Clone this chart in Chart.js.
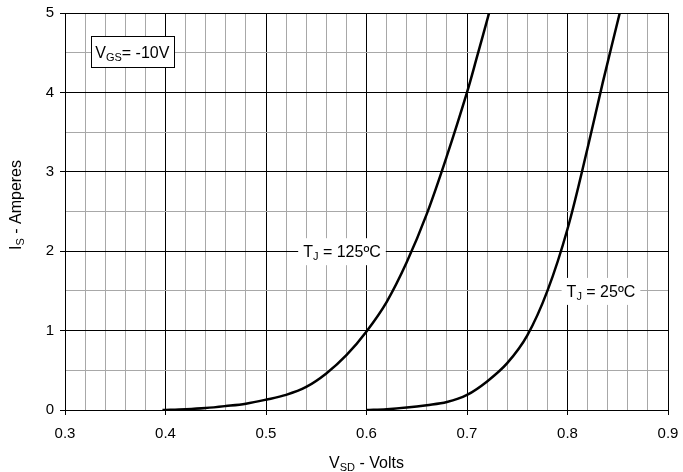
<!DOCTYPE html>
<html>
<head>
<meta charset="utf-8">
<script src="https://cdn.jsdelivr.net/npm/chart.js@4.4.0/dist/chart.umd.min.js"></script>
<style>
  html, body { margin: 0; padding: 0; background: #fff; }
  #wrap { width: 683px; height: 472px; }
</style>
</head>
<body>
<div id="wrap"><canvas id="grafico"></canvas></div>
<script>
// curva Tj = 125 C
const vsd125 = [0.397, 0.42, 0.44, 0.46, 0.48, 0.50, 0.52, 0.54, 0.56, 0.58, 0.60, 0.62, 0.64, 0.66, 0.68, 0.70, 0.71, 0.722];
const is125  = [0, 0.01, 0.025, 0.05, 0.08, 0.13, 0.19, 0.29, 0.46, 0.69, 0.99, 1.36, 1.86, 2.47, 3.2, 4.0, 4.45, 5.0];

// curva Tj = 25 C
const vsd25 = [0.60, 0.62, 0.64, 0.66, 0.68, 0.70, 0.72, 0.74, 0.76, 0.78, 0.80, 0.82, 0.835, 0.852];
const is25  = [0, 0.01, 0.03, 0.06, 0.1, 0.19, 0.36, 0.59, 0.94, 1.5, 2.28, 3.3, 4.12, 5.0];

const xMin = 0.3, xMax = 0.9, xStep = 0.02;
const yMin = 0, yMax = 5, yStep = 0.5;

const fonte = '"Liberation Sans", Arial, sans-serif';

function pontos(xs, ys) {
  return xs.map((x, i) => ({ x: x, y: ys[i] }));
}

function ehMaiorX(v) { return Math.round(v * 100) % 10 === 0; }
function ehMaiorY(v) { return Math.abs(v - Math.round(v)) < 1e-6; }

// texto com subscrito: partes = [[texto, sub], ...]
function larguraRica(ctx, partes, tam, tamSub) {
  let w = 0;
  partes.forEach(p => {
    ctx.font = (p[1] ? tamSub : tam) + 'px ' + fonte;
    w += ctx.measureText(p[0]).width;
  });
  return w;
}

function desenhaRico(ctx, partes, x, y, tam, tamSub) {
  const w = larguraRica(ctx, partes, tam, tamSub);
  let cx = x - w / 2;
  ctx.textBaseline = 'alphabetic';
  ctx.textAlign = 'left';
  partes.forEach(p => {
    ctx.font = (p[1] ? tamSub : tam) + 'px ' + fonte;
    ctx.fillText(p[0], cx, y + (p[1] ? tam * 0.22 : 0) + tam * 0.36);
    cx += ctx.measureText(p[0]).width;
  });
  return w;
}

const anotacoes = {
  id: 'anotacoes',
  afterDraw(chart) {
    const ctx = chart.ctx;
    const sx = chart.scales.x, sy = chart.scales.y;
    const area = chart.chartArea;
    ctx.save();
    ctx.fillStyle = '#000';

    // caixa VGS
    const bx = sx.getPixelForValue(0.367), by = sy.getPixelForValue(4.51);
    const partesV = [['V', false], ['GS', true], ['= -10V', false]];
    ctx.fillStyle = '#fff';
    ctx.fillRect(Math.round(bx - 41.5) + 0.5, Math.round(by - 15.5) + 0.5, 83, 31);
    ctx.strokeStyle = '#000';
    ctx.lineWidth = 1;
    ctx.strokeRect(Math.round(bx - 41.5) + 0.5, Math.round(by - 15.5) + 0.5, 83, 31);
    ctx.fillStyle = '#000';
    desenhaRico(ctx, partesV, bx, by, 16, 11);

    // rotulos das curvas
    const rotulos = [
      { x: 0.5756, y: 2.0, partes: [['T', false], ['J', true], [' = 125ºC', false]] },
      { x: 0.8333, y: 1.5, partes: [['T', false], ['J', true], [' = 25ºC', false]] }
    ];
    rotulos.forEach(r => {
      const px = sx.getPixelForValue(r.x), py = sy.getPixelForValue(r.y);
      const w = larguraRica(ctx, r.partes, 16, 11);
      ctx.fillStyle = '#fff';
      ctx.fillRect(px - w / 2 - 5, py - 13, w + 10, 27);
      ctx.fillStyle = '#000';
      desenhaRico(ctx, r.partes, px, py, 16, 11);
    });

    // titulos dos eixos
    desenhaRico(ctx, [['V', false], ['SD', true], [' - Volts', false]], (area.left + area.right) / 2, 462, 16, 11);

    ctx.translate(15, 205);
    ctx.rotate(-Math.PI / 2);
    desenhaRico(ctx, [['I', false], ['S', true], [' - Amperes', false]], 0, 0, 16, 11);
    ctx.restore();
  }
};

const config = {
  type: 'scatter',
  data: {
    datasets: [{
      label: 'Tj = 125C',
      data: pontos(vsd125, is125),
      showLine: true,
      borderColor: '#000',
      borderWidth: 2.5,
      pointRadius: 0,
      tension: 0.35
    }, {
      label: 'Tj = 25C',
      data: pontos(vsd25, is25),
      showLine: true,
      borderColor: '#000',
      borderWidth: 2.5,
      pointRadius: 0,
      tension: 0.35
    }]
  },
  options: {
    responsive: true,
    maintainAspectRatio: false,
    animation: false,
    layout: { padding: { top: 13, right: 15, left: 0, bottom: 0 } },
    plugins: {
      legend: { display: false },
      tooltip: { enabled: false }
    },
    scales: {
      x: {
        type: 'linear',
        min: xMin,
        max: xMax,
        afterFit: (s) => { s.height = 62; s.paddingRight = 0; s.paddingLeft = 0; },
        border: { color: '#000', width: 1 },
        grid: {
          color: (c) => ehMaiorX(c.tick.value) ? '#000' : '#a8a8a8',
          tickColor: (c) => ehMaiorX(c.tick.value) ? '#000' : 'rgba(0,0,0,0)',
          tickLength: 5,
          lineWidth: 1
        },
        ticks: {
          stepSize: xStep,
          autoSkip: false,
          maxRotation: 0,
          padding: 10,
          color: '#000',
          font: { family: fonte, size: 15 },
          callback: (v) => ehMaiorX(v) ? v.toFixed(1) : ''
        }
      },
      y: {
        type: 'linear',
        min: yMin,
        max: yMax,
        afterFit: (s) => { s.width = 65; s.paddingTop = 0; s.paddingBottom = 0; },
        border: { color: '#000', width: 1 },
        grid: {
          color: (c) => ehMaiorY(c.tick.value) ? '#000' : '#a8a8a8',
          tickColor: (c) => ehMaiorY(c.tick.value) ? '#000' : 'rgba(0,0,0,0)',
          tickLength: 5,
          lineWidth: 1
        },
        ticks: {
          stepSize: yStep,
          autoSkip: false,
          padding: 6,
          color: '#000',
          font: { family: fonte, size: 15 },
          callback: (v) => ehMaiorY(v) ? String(Math.round(v)) : ''
        }
      }
    }
  },
  plugins: [anotacoes]
};

window.grafico = new Chart(document.getElementById('grafico'), config);
</script>
</body>
</html>
